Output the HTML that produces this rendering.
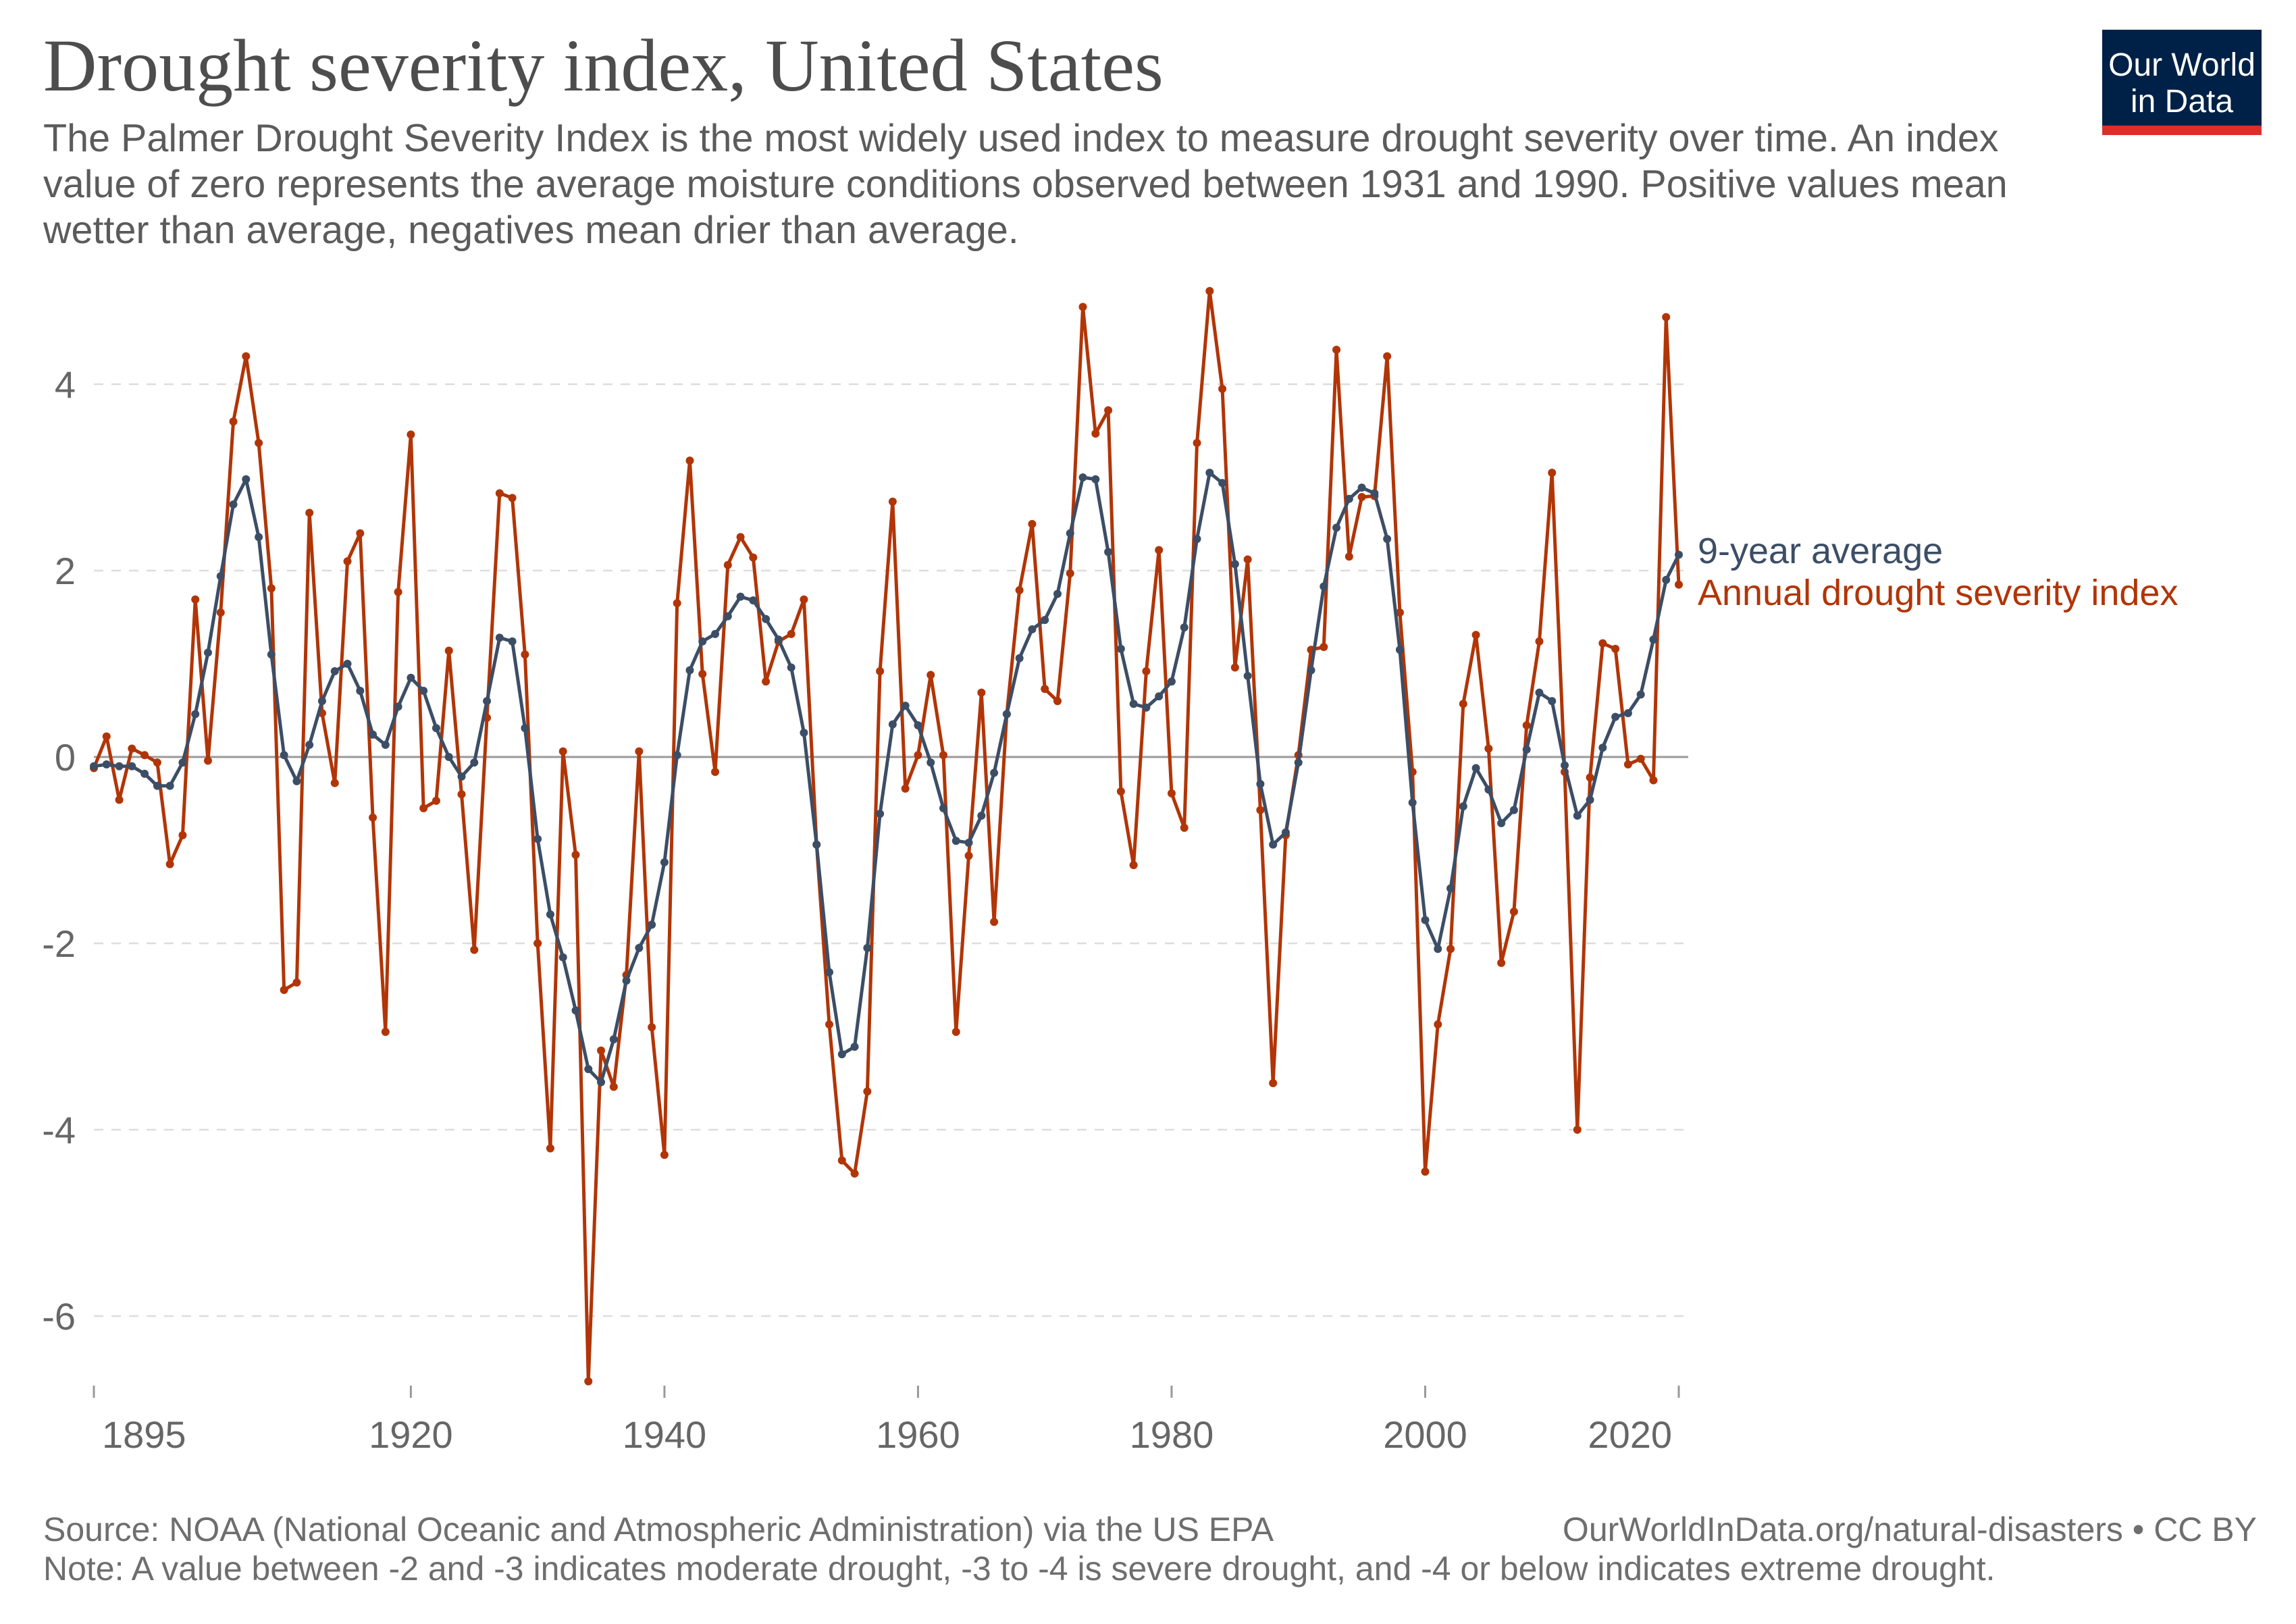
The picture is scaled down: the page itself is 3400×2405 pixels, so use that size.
<!DOCTYPE html>
<html><head><meta charset="utf-8"><style>
html,body{margin:0;padding:0;background:#fff;}
body{width:3400px;height:2400px;position:relative;overflow:hidden;font-family:"Liberation Sans",sans-serif;}
</style></head><body>
<svg id="chart" width="3400" height="2400" xmlns="http://www.w3.org/2000/svg">
<text x="64" y="134" font-family="Liberation Serif, serif" font-size="110" fill="#4d4d4d">Drought severity index, United States</text>
<g font-size="57.5" fill="#5b5b5b">
<text x="64" y="224">The Palmer Drought Severity Index is the most widely used index to measure drought severity over time. An index</text>
<text x="64" y="292">value of zero represents the average moisture conditions observed between 1931 and 1990. Positive values mean</text>
<text x="64" y="360">wetter than average, negatives mean drier than average.</text>
</g>
<g>
<rect x="3113" y="44" width="236" height="156" fill="#002147"/>
<rect x="3113" y="186" width="236" height="14" fill="#dc2f2a"/>
<text x="3231" y="112" text-anchor="middle" font-size="48" fill="#fff" font-family="Liberation Sans, sans-serif">Our World</text>
<text x="3231" y="166" text-anchor="middle" font-size="48" fill="#fff" font-family="Liberation Sans, sans-serif">in Data</text>
</g>
<g id="grid"></g>
<g id="axes"></g>
<g id="series"></g>
<text x="2514" y="834" font-size="54" fill="#3c4e66">9-year average</text>
<text x="2514" y="896" font-size="54" fill="#b13507">Annual drought severity index</text>
<text x="64" y="2282" font-size="50" fill="#6e6e6e">Source: NOAA (National Oceanic and Atmospheric Administration) via the US EPA</text>
<text x="3342" y="2282" text-anchor="end" font-size="50" fill="#6e6e6e">OurWorldInData.org/natural-disasters • CC BY</text>
<text x="64" y="2340" font-size="50" fill="#6e6e6e">Note: A value between -2 and -3 indicates moderate drought, -3 to -4 is severe drought, and -4 or below indicates extreme drought.</text>
</svg>
<script>
const startYear = 1895;
const annual = [-0.12,0.22,-0.46,0.09,0.02,-0.06,-1.15,-0.84,1.69,-0.04,1.55,3.6,4.3,3.37,1.81,-2.5,-2.42,2.62,0.47,-0.28,2.1,2.4,-0.65,-2.95,1.77,3.46,-0.55,-0.47,1.14,-0.4,-2.07,0.42,2.83,2.78,1.1,-2.0,-4.2,0.06,-1.05,-6.7,-3.15,-3.54,-2.34,0.06,-2.9,-4.27,1.65,3.18,0.89,-0.16,2.06,2.36,2.14,0.81,1.24,1.32,1.69,-0.94,-2.87,-4.33,-4.47,-3.59,0.92,2.74,-0.34,0.02,0.88,0.02,-2.95,-1.06,0.69,-1.77,0.46,1.79,2.5,0.73,0.6,1.97,4.83,3.47,3.72,-0.37,-1.16,0.92,2.22,-0.39,-0.76,3.37,5.0,3.95,0.96,2.12,-0.57,-3.5,-0.84,0.02,1.15,1.18,4.37,2.15,2.79,2.8,4.3,1.55,-0.16,-4.45,-2.87,-2.06,0.57,1.31,0.09,-2.21,-1.66,0.34,1.24,3.05,-0.16,-4.0,-0.22,1.22,1.16,-0.08,-0.02,-0.25,4.72,1.85];
const avg9 = [-0.1,-0.08,-0.1,-0.1,-0.18,-0.31,-0.31,-0.06,0.46,1.12,1.94,2.71,2.98,2.36,1.1,0.02,-0.26,0.13,0.6,0.92,1.0,0.71,0.24,0.13,0.54,0.85,0.71,0.31,0.0,-0.21,-0.06,0.6,1.28,1.24,0.31,-0.88,-1.69,-2.15,-2.72,-3.35,-3.49,-3.03,-2.4,-2.05,-1.8,-1.13,0.02,0.93,1.24,1.32,1.51,1.72,1.68,1.48,1.26,0.96,0.26,-0.94,-2.31,-3.19,-3.11,-2.05,-0.61,0.35,0.55,0.34,-0.06,-0.55,-0.9,-0.92,-0.63,-0.17,0.46,1.06,1.37,1.47,1.75,2.4,3.0,2.98,2.2,1.16,0.57,0.53,0.65,0.81,1.39,2.34,3.05,2.94,2.07,0.87,-0.29,-0.94,-0.81,-0.06,0.93,1.83,2.46,2.77,2.89,2.83,2.34,1.15,-0.49,-1.75,-2.06,-1.41,-0.53,-0.12,-0.35,-0.71,-0.57,0.08,0.69,0.6,-0.09,-0.63,-0.46,0.1,0.43,0.47,0.67,1.26,1.9,2.17];
const yTicks = [-6,-4,-2,0,2,4];
const xTickYears = [1895,1920,1940,1960,1980,2000,2020];
const xTickLabels = ["1895","1920","1940","1960","1980","2000","2020"];

const NS="http://www.w3.org/2000/svg";
const X0=139, X1=2486, Y0=1121, PU=138;
function xs(yr){return X0+(yr-1895)*(X1-X0)/125;}
function ys(v){return Y0-v*PU;}
function mk(t,a,p){const e=document.createElementNS(NS,t);for(const k in a)e.setAttribute(k,a[k]);p.appendChild(e);return e;}
const grid=document.getElementById('grid'), axes=document.getElementById('axes'), series=document.getElementById('series');
yTicks.forEach(v=>{
  const l=mk('line',{x1:X0,x2:2500,y1:ys(v),y2:ys(v),stroke:v===0?'#9a9a9a':'#dddddd','stroke-width':v===0?3:2.5,'stroke-dasharray':v===0?'none':'14,12'},grid);
  
  
  const t=mk('text',{x:112,y:ys(v)+20,'text-anchor':'end','font-size':56,fill:'#666'},axes);
  t.textContent=String(v);
  
  
});
xTickYears.forEach((yr,i)=>{
  const tx=xs(yr);
  const l=mk('line',{x1:tx,x2:tx,y1:2052,y2:2070,stroke:'#999','stroke-width':3},axes);
  
  
  let anchor='middle', lx=tx;
  if(i===0){anchor='start';lx=tx+12;}
  if(i===xTickYears.length-1){anchor='end';lx=tx-10;}
  const t=mk('text',{x:lx,y:2144,'text-anchor':anchor,'font-size':56,fill:'#666'},axes);
  t.textContent=xTickLabels[i];
  
  
});
function drawSeries(vals,color,name){
  const g=mk('g',{},series);
  
  
  const pts=vals.map((v,i)=>xs(startYear+i)+','+ys(v)).join(' ');
  const pl=mk('polyline',{points:pts,fill:'none',stroke:color,'stroke-width':5,'stroke-linejoin':'round'},g);
  
  
  vals.forEach((v,i)=>{
    const c=mk('circle',{cx:xs(startYear+i),cy:ys(v),r:6,fill:color},g);
    
    
  });
}
drawSeries(annual,'#b13507','annual-series');
drawSeries(avg9,'#3c4e66','average-series');
</script>
</body></html>
